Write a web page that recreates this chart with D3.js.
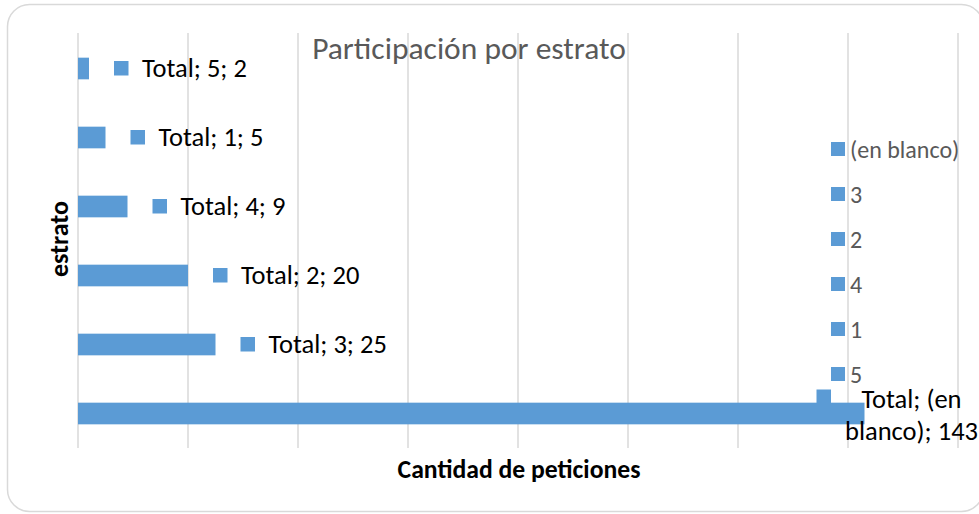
<!DOCTYPE html>
<html>
<head>
<meta charset="utf-8">
<script src="https://cdn.jsdelivr.net/npm/d3@7"></script>
<style>
  body { margin: 0; background: #fff; }
  svg { display: block; font-family: Carlito, Calibri, Lato, sans-serif; }
</style>
</head>
<body>
<svg id="chart" width="979" height="514"></svg>
<script>
// estratos de arriba hacia abajo, como en el grafico
const categories = ['5', '1', '4', '2', '3', '(en blanco)']
const values = [2, 5, 9, 20, 25, 143]
const xTicks = [0, 20, 40, 60, 80, 100, 120, 140, 160]
const seriesName = 'Total'

const width = 979, height = 514
const svg = d3.select('#chart')
const barColor = '#5b9bd5'
const gridColor = '#d9d9d9'

// marco del grafico
svg.append('rect')
    .attr('x', 7.5).attr('y', 4.5)
    .attr('width', 976).attr('height', 507)
    .attr('rx', 22)
    .style('fill', '#fff')
    .style('stroke', gridColor)
    .style('stroke-width', 1.5)

const x = d3.scaleLinear().domain([0, 160]).range([78, 958])
const y = d3.scaleBand().domain(categories).range([34, 448])
    .paddingInner(0.686).paddingOuter(0.343)

// lineas de division verticales
svg.append('g').selectAll('line').data(xTicks).join('line')
    .attr('x1', d => x(d)).attr('x2', d => x(d))
    .attr('y1', 33).attr('y2', 448)
    .style('stroke', gridColor)
    .style('stroke-width', 1.5)

// titulo (las lineas pasan por debajo)
svg.append('text')
    .attr('x', 469).attr('y', 59)
    .attr('text-anchor', 'middle')
    .style('font-size', '31.5px')
    .style('fill', '#595959')
    .text('Participación por estrato')

// barras
svg.append('g').selectAll('rect').data(categories).join('rect')
    .attr('x', x(0))
    .attr('y', d => y(d))
    .attr('width', (d, i) => x(values[i]) - x(0))
    .attr('height', y.bandwidth())
    .style('fill', barColor)

// etiquetas de datos
const labelSize = 26.5
const labels = svg.append('g').style('font-size', labelSize + 'px').style('fill', '#000')
categories.forEach(function (cat, i) {
    let txt = seriesName + '; ' + cat + '; ' + values[i]
    let end = x(values[i])
    let cy = y(cat) + y.bandwidth() / 2
    let probe = labels.append('text').text(txt)
    let w = probe.node().getComputedTextLength()
    probe.remove()

    if (end + 53 + w < width) {
        labels.append('rect')
            .attr('x', end + 25).attr('y', cy - 7.5)
            .attr('width', 14.5).attr('height', 14.5)
            .style('fill', barColor)
        labels.append('text')
            .attr('x', end + 53).attr('y', cy + 8.5)
            .text(txt)
    } else {
        // no cabe: se parte en dos lineas centradas
        let words = txt.split(' ')
        let cut = Math.ceil(words.length / 2)
        let lines = [words.slice(0, cut).join(' '), words.slice(cut).join(' ')]
        let cx = end + 47
        labels.append('rect')
            .attr('x', cx - 95).attr('y', cy - 24)
            .attr('width', 14.5).attr('height', 14.5)
            .style('fill', barColor)
        lines.forEach(function (line, k) {
            labels.append('text')
                .attr('x', cx).attr('y', cy - 6 + k * 32)
                .attr('text-anchor', 'middle')
                .text(line)
        })
    }
})

// leyenda
const legendItems = categories.slice().reverse()
const legend = svg.append('g').style('font-size', '24px').style('fill', '#595959')
legend.selectAll('rect').data(legendItems).join('rect')
    .attr('x', 831).attr('y', (d, i) => 142 + i * 45)
    .attr('width', 14).attr('height', 14)
    .style('fill', barColor)
legend.selectAll('text').data(legendItems).join('text')
    .attr('x', 850).attr('y', (d, i) => 157.5 + i * 45)
    .text(d => d)

// titulos de ejes
svg.append('text')
    .attr('x', 519).attr('y', 478)
    .attr('text-anchor', 'middle')
    .style('font-size', '25.7px').style('font-weight', 'bold')
    .text('Cantidad de peticiones')

svg.append('text')
    .attr('transform', 'translate(68,239) rotate(-90)')
    .attr('text-anchor', 'middle')
    .style('font-size', '26px').style('font-weight', 'bold')
    .text('estrato')
</script>
</body>
</html>
